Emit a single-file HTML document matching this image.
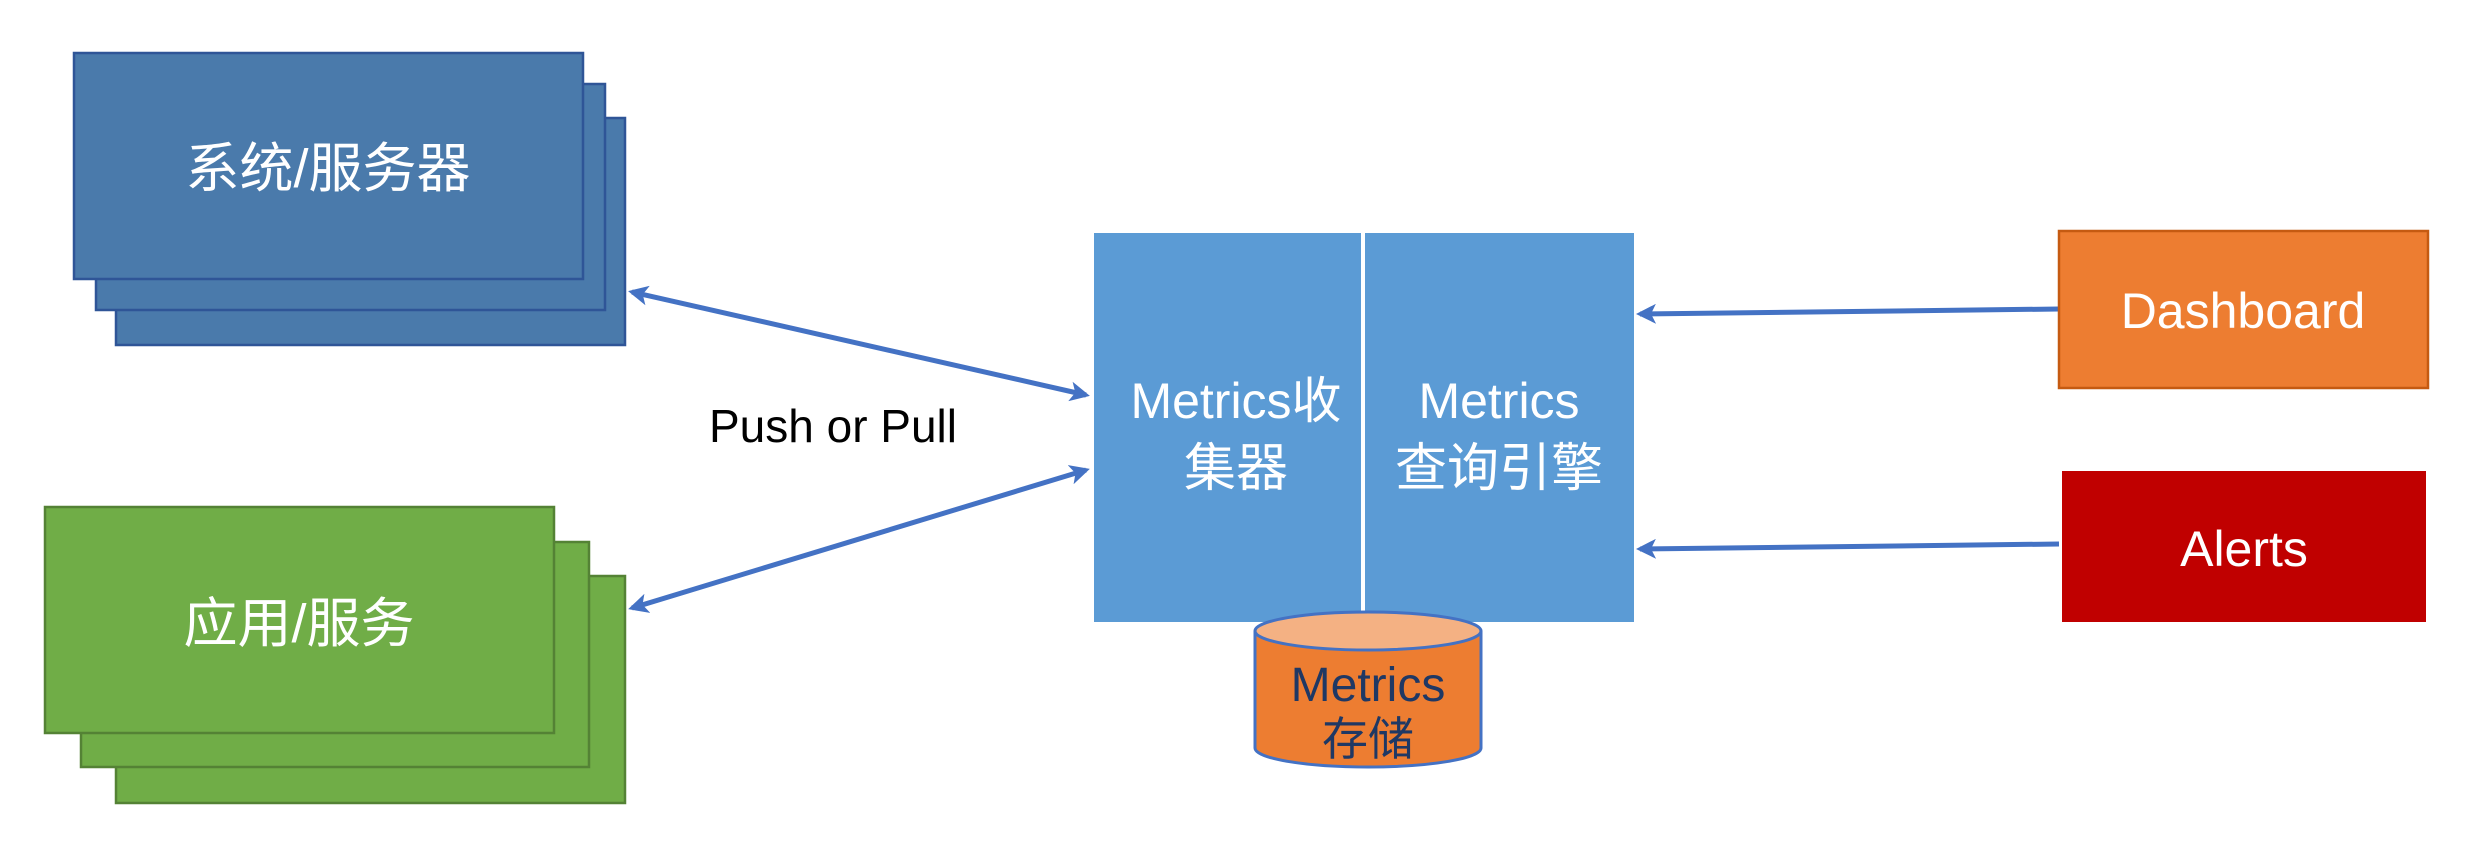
<!DOCTYPE html>
<html><head><meta charset="utf-8"><style>
html,body{margin:0;padding:0;background:#fff;width:2474px;height:862px;overflow:hidden}
text{font-family:"Liberation Sans","Noto Sans CJK SC",sans-serif}
</style></head><body>
<svg width="2474" height="862" viewBox="0 0 2474 862" xmlns="http://www.w3.org/2000/svg">
<defs>
<marker id="ah" markerWidth="4" markerHeight="4" refX="3.2" refY="2" orient="auto-start-reverse" markerUnits="strokeWidth">
<path d="M0,0 L4,2 L0,4 L1,2 z" fill="#4472c4"/></marker>
</defs>
<rect x="116" y="118" width="509" height="227" fill="#4a7aab" stroke="#2f5597" stroke-width="2.5"/>
<rect x="96" y="84" width="509" height="226" fill="#4a7aab" stroke="#2f5597" stroke-width="2.5"/>
<rect x="74" y="53" width="509" height="226" fill="#4a7aab" stroke="#2f5597" stroke-width="2.5"/>
<text x="328" y="187" font-size="54" fill="#fff" text-anchor="middle">系统/服务器</text>
<rect x="116" y="576" width="509" height="227" fill="#70ad47" stroke="#548235" stroke-width="2.5"/>
<rect x="81" y="542" width="508" height="225" fill="#70ad47" stroke="#548235" stroke-width="2.5"/>
<rect x="45" y="507" width="509" height="226" fill="#70ad47" stroke="#548235" stroke-width="2.5"/>
<text x="299" y="642" font-size="54" fill="#fff" text-anchor="middle">应用/服务</text>
<text x="833" y="442" font-size="46" fill="#000" text-anchor="middle">Push or Pull</text>
<line x1="632" y1="292" x2="1086" y2="395" stroke="#4472c4" stroke-width="5" marker-start="url(#ah)" marker-end="url(#ah)"/>
<line x1="632" y1="608" x2="1086" y2="470" stroke="#4472c4" stroke-width="5" marker-start="url(#ah)" marker-end="url(#ah)"/>
<line x1="2059" y1="309" x2="1640" y2="314" stroke="#4472c4" stroke-width="5" marker-end="url(#ah)"/>
<line x1="2059" y1="544" x2="1640" y2="549" stroke="#4472c4" stroke-width="5" marker-end="url(#ah)"/>
<rect x="1094" y="233" width="540" height="389" fill="#5b9bd5"/>
<rect x="1361" y="233" width="4" height="389" fill="#fff"/>
<text x="1236" y="418" font-size="50" fill="#fff" text-anchor="middle">Metrics收</text>
<text x="1236" y="486" font-size="52" fill="#fff" text-anchor="middle">集器</text>
<text x="1499" y="418" font-size="50" fill="#fff" text-anchor="middle">Metrics</text>
<text x="1499" y="486" font-size="52" fill="#fff" text-anchor="middle">查询引擎</text>
<path d="M1255,631 L1255,748 A113,19 0 0 0 1481,748 L1481,631" fill="#ed7d31" stroke="#4472c4" stroke-width="3"/>
<ellipse cx="1368" cy="631" rx="113" ry="19" fill="#f4b183" stroke="#4472c4" stroke-width="3"/>
<text x="1368" y="701" font-size="48" fill="#1f3864" text-anchor="middle">Metrics</text>
<text x="1368" y="755" font-size="46" fill="#1f3864" text-anchor="middle">存储</text>
<rect x="2059" y="231" width="369" height="157" fill="#ed7d31" stroke="#c55a11" stroke-width="2.5"/>
<text x="2243" y="328" font-size="50" fill="#fff" text-anchor="middle">Dashboard</text>
<rect x="2062" y="471" width="364" height="151" fill="#c00000"/>
<text x="2244" y="566" font-size="50" fill="#fff" text-anchor="middle">Alerts</text>
</svg>
</body></html>
